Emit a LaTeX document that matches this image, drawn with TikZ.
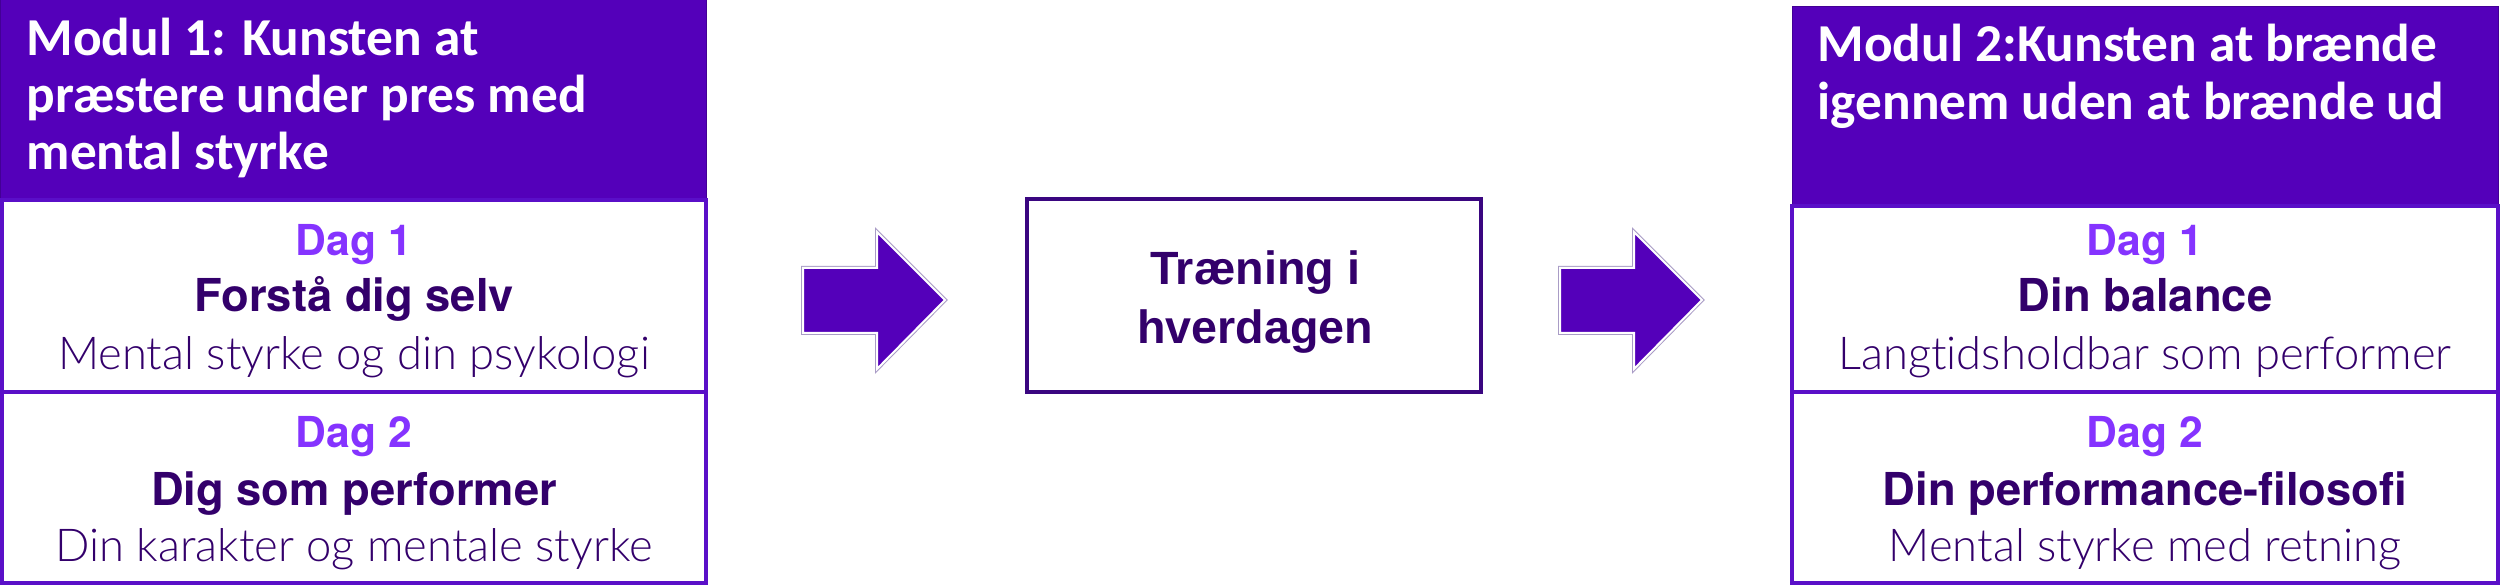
\documentclass[tikz,border=0pt]{standalone}
\usepackage{fontspec}
\newfontfamily\headfont{Carlito}
\newfontfamily\boldfont{TeX Gyre Heros}
\newfontfamily\lightfont{Lato Light}[Ligatures=NoCommon]
\newfontfamily\midfont{Liberation Sans}
\definecolor{modpurple}{HTML}{5400BA}
\definecolor{dagpurple}{HTML}{8533FF}
\definecolor{darkpurple}{HTML}{33006B}
\definecolor{boxline}{HTML}{5A0FC8}
\definecolor{midline}{HTML}{3A0680}
\definecolor{arrowedge}{HTML}{A99CC6}
\tikzset{
  headtxt/.style={anchor=base west, inner sep=0pt, text=white, font=\headfont\bfseries\fontsize{16}{19}\selectfont},
  dagtxt/.style={anchor=base, inner sep=0pt, text=dagpurple, font=\boldfont\bfseries\fontsize{12.8}{15}\selectfont},
  titletxt/.style={anchor=base, inner sep=0pt, text=darkpurple, font=\boldfont\bfseries\fontsize{13.6}{16}\selectfont},
  subtxt/.style={anchor=base, inner sep=0pt, text=darkpurple, font=\lightfont\fontsize{13.6}{16}\selectfont},
  midtxt/.style={anchor=base, inner sep=0pt, text=darkpurple, font=\midfont\bfseries\fontsize{14}{16}\selectfont},
  headbox/.style={fill=modpurple, draw=modpurple!80!black, line width=0.3pt},
  daybox/.style={draw=boxline, line width=1.2pt},
  midbox/.style={draw=midline, line width=1.35pt},
  arrowfill/.style={fill=modpurple},
  arrowout/.style={draw=arrowedge, line width=1.2pt, line join=miter},
  arrowin/.style={draw=white, line width=0.6pt, line join=miter}
}
\begin{document}
\begin{tikzpicture}[x=0.3pt,y=-0.3pt]
\useasboundingbox (0,0) rectangle (2500,586);
% ---- Module 1
\path[headbox] (1,0) rectangle (706,200);
\draw[daybox] (2,200) rectangle (706,392);
\draw[daybox] (2,392) rectangle (706,583);
\node[headtxt] (h1a) at (26,56) {Modul 1: Kunsten at};
\node[headtxt] (h1b) at (26,113) {præstere under pres med};
\node[headtxt] (h1c) at (26,170) {mental styrke};
\node[dagtxt] (l1d) at (354,256) {Dag 1};
\node[titletxt] (l1t) at (354,312) {Forstå dig selv};
\node[subtxt] (l1s) at (354,370) {Mental styrke og din psykologi};
\node[dagtxt] (l2d) at (354,448) {Dag 2};
\node[titletxt] (l2t) at (354,506) {Dig som performer};
\node[subtxt] (l2s) at (354,562) {Din karakter og mentale styrke};
% ---- arrows
\foreach \dx/\nm in {0/a1,757/a2}{
  \begin{scope}[xshift=\dx*0.3pt]
  \draw[arrowout] (803,268) -- (877,268) -- (877,232) -- (945,300) -- (877,369) -- (877,333) -- (803,333) -- cycle;
  \fill[arrowfill] (803,268) -- (877,268) -- (877,232) -- (945,300) -- (877,369) -- (877,333) -- (803,333) -- cycle;
  \draw[arrowin] (803,268) -- (877,268) -- (877,232) -- (945,300) -- (877,369) -- (877,333) -- (803,333) -- cycle;
  \coordinate (\nm) at (874,300);
  \end{scope}
}
% ---- middle box
\draw[midbox] (1027,199) rectangle (1481,392);
\node[midtxt] (m1) at (1255,285) {Træning i};
\node[midtxt] (m2) at (1255,344) {hverdagen};
% ---- Module 2
\path[headbox] (1792,7) rectangle (2498,206);
\draw[daybox] (1792,206) rectangle (2498,392);
\draw[daybox] (1792,392) rectangle (2498,583);
\node[headtxt] (h2a) at (1817,62) {Modul 2:Kunsten at brænde};
\node[headtxt] (h2b) at (1817,120) {igennem uden at brænde ud};
\node[dagtxt] (r1d) at (2145,256) {Dag 1};
\node[titletxt] (r1t) at (2145,312) {Din balance};
\node[subtxt] (r1s) at (2145,370) {Langtidsholdbar som performer};
\node[dagtxt] (r2d) at (2145,448) {Dag 2};
\node[titletxt] (r2t) at (2145,506) {Din performance-filosofi};
\node[subtxt] (r2s) at (2145,562) {Mental styrke med retning};
\end{tikzpicture}
\end{document}
